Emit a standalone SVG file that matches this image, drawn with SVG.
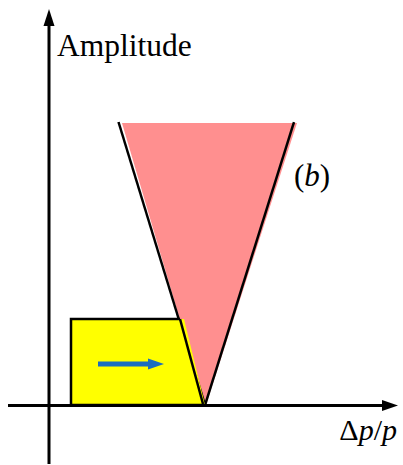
<svg xmlns="http://www.w3.org/2000/svg" width="403" height="465" viewBox="0 0 403 465">
<style>
.ax{stroke:#000;stroke-width:3;fill:none}
</style>
<rect width="403" height="465" fill="#fff"/>
<g id="cone">
<polygon points="122,123 294,123 297,123 206,405 205,405" fill="#ff8f8f"/>
<line x1="118.5" y1="122" x2="205" y2="405" stroke="#000" stroke-width="2.5"/>
<line x1="294" y1="122" x2="205" y2="405" stroke="#000" stroke-width="2.5"/>
</g>
<g id="box">
<polygon points="71,319 180,319 184,319 205,405 71,405" fill="#ffff00"/>
<polyline points="180,319 71,319 71,405 205,405" fill="none" stroke="#000" stroke-width="2.5"/>
<line x1="180" y1="319" x2="203" y2="404" stroke="#000" stroke-width="2.5"/>
<path d="M98,361.5 H148 V358.5 L164,364 L148,369.5 V366.5 H98 Z" fill="#1a6dc0"/>
</g>
<g id="axes">
<line class="ax" x1="49" y1="22" x2="49" y2="464"/>
<polygon points="49,9 43.5,26 54.5,26" fill="#000"/>
<line class="ax" x1="8" y1="405.5" x2="385" y2="405.5"/>
<polygon points="398,405.5 382,400 382,411" fill="#000"/>
</g>
<g id="labels">
<text x="57" y="56" style="font-family:'Liberation Serif';font-size:31.5px">Amplitude</text>
<text x="294" y="186" style="font-family:'Liberation Serif';font-size:31px">(<tspan style="font-style:italic">b</tspan>)</text>
<text x="397" y="440" text-anchor="end" style="font-family:'Liberation Serif';font-size:30px">Δ<tspan style="font-style:italic">p</tspan>/<tspan style="font-style:italic">p</tspan></text>
</g>
</svg>
